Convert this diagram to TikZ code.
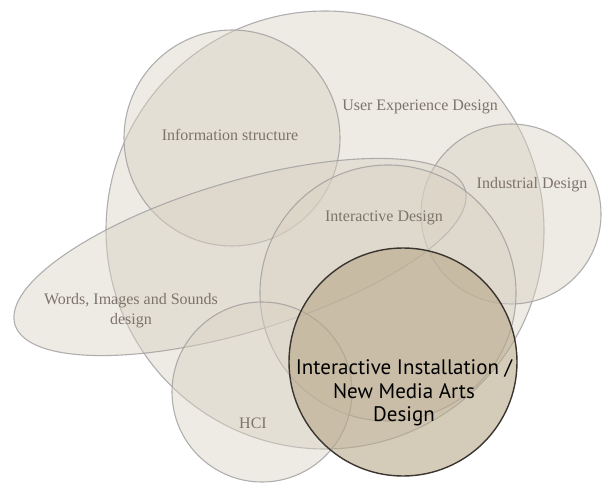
\documentclass[tikz,border=0pt]{standalone}
\usepackage{fontspec}
\setmainfont{Liberation Serif}
\newfontfamily\artfont{PT Sans}
\usetikzlibrary{shapes.geometric}
\definecolor{ringfill}{HTML}{D9D1C3}
\definecolor{ringline}{HTML}{9E9E9E}
\definecolor{labelgray}{HTML}{7D736B}
\definecolor{artfill}{HTML}{B8A88A}
\definecolor{artline}{HTML}{3A3530}
\tikzset{
  zone/.style={draw=ringline, draw opacity=0.8, line width=1.1pt, fill=ringfill, fill opacity=0.45, inner sep=0pt, outer sep=0pt},
  ring/.style={zone, circle, minimum size=#1},
  lbl/.style={text=labelgray, font=\fontsize{16}{20}\selectfont, align=center, inner sep=0pt},
  artlbl/.style={text=black, font=\artfont\fontsize{21}{23.5}\selectfont, align=center, inner sep=0pt}
}
\begin{document}
\begin{tikzpicture}[x=1pt,y=-1pt]
\useasboundingbox (0,0) rectangle (602,484);
\node[ring=438pt] (uxd) at (325,230) {};
\node[ring=216pt] (info) at (232,138) {};
\node[ring=180pt] (ind) at (511,214) {};
\node[zone, ellipse, minimum width=470pt, minimum height=150pt, rotate=16.7] (wis) at (240,257) {};
\node[ring=256pt] (inter) at (388,293) {};
\node[ring=180pt] (hci) at (262,392) {};
\node[zone, circle, minimum size=228pt, fill=artfill, fill opacity=0.6, draw=artline, draw opacity=1, line width=1.4pt] (art) at (403,362) {};
\node[lbl] (uxdt) at (420,107) {User Experience Design};
\node[lbl] (infot) at (230,135) {Information structure};
\node[lbl] (indt) at (532,185) {Industrial Design};
\node[lbl] (intert) at (384,218) {Interactive Design};
\node[lbl] (wist) at (131,311) {Words, Images and Sounds\\design};
\node[lbl] (hcit) at (253,423) {HCI};
\node[artlbl] (artt) at (404,393) {Interactive Installation /\\New Media Arts\\Design};
\end{tikzpicture}
\end{document}
